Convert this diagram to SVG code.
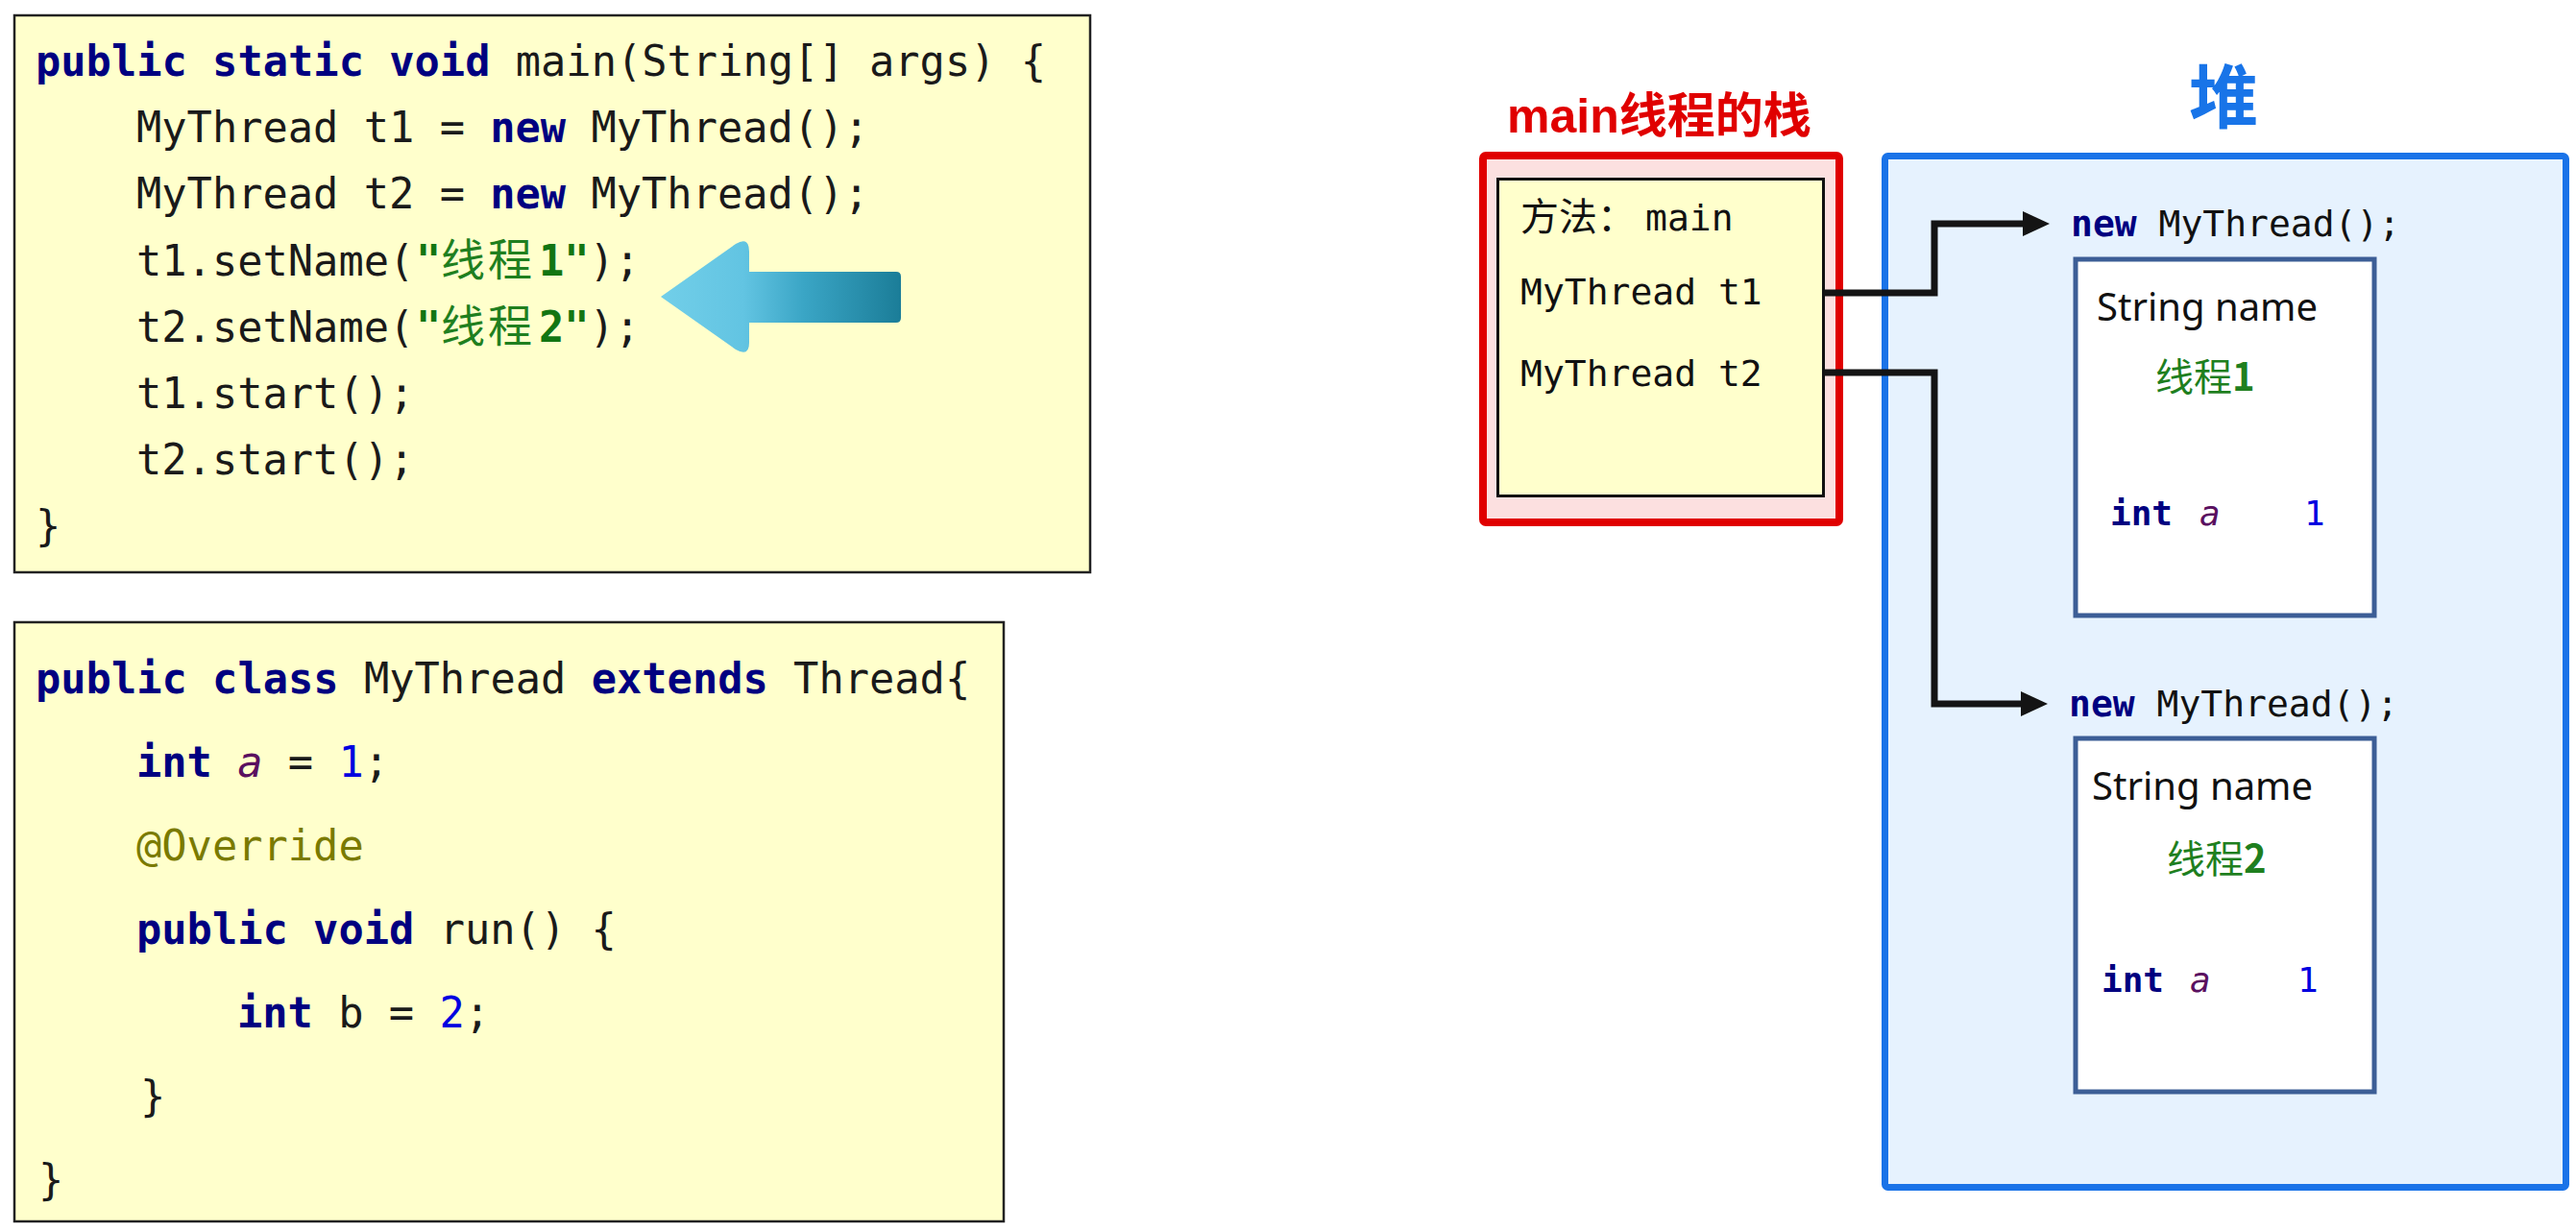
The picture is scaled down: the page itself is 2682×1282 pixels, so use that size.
<svg xmlns="http://www.w3.org/2000/svg" width="2682" height="1282" viewBox="0 0 2682 1282">
<defs>
<style>
.code{font-family:"DejaVu Sans Mono","Liberation Mono","Noto Sans CJK SC",monospace;font-size:43.7px;fill:#1a1a1a}
.kw{font-weight:bold;fill:#000080}
.str{fill:#127512;font-weight:bold}
.cjk{font-family:"Noto Sans CJK SC",sans-serif;font-weight:normal;fill:#1f7f1f;font-size:46px}
.num{fill:#0000e0}
.ital{font-style:italic;fill:#5a1060}
.ann{fill:#7a7a00}
.box{fill:#ffffcc;stroke:#222;stroke-width:2.5}
.stk{font-family:"DejaVu Sans Mono","Liberation Mono",monospace;font-size:38px;fill:#111}
.obj{fill:#ffffff;stroke:#3c5e96;stroke-width:5}
.sn{font-family:"Noto Sans","Open Sans",sans-serif;font-size:40px;fill:#111}
.cn{font-family:"Noto Sans CJK SC",sans-serif;font-size:40px;fill:#1f7f1f}
.fld{font-family:"DejaVu Sans Mono","Liberation Mono",monospace;font-size:36px}
.conn{fill:none;stroke:#141414;stroke-width:7;stroke-linejoin:miter}
</style>
<linearGradient id="ag" gradientUnits="userSpaceOnUse" x1="686" y1="0" x2="938" y2="0">
<stop offset="0" stop-color="#72cfe9"/>
<stop offset="0.35" stop-color="#62c4e2"/>
<stop offset="0.6" stop-color="#3aa5c5"/>
<stop offset="1" stop-color="#1b7d98"/>
</linearGradient>
<marker id="ah" markerUnits="userSpaceOnUse" viewBox="0 0 28 26" refX="2" refY="13" markerWidth="28" markerHeight="26" orient="auto">
<path d="M0,0 L28,13 L0,26 Z" fill="#141414"/>
</marker>
</defs>
<rect width="2682" height="1282" fill="#ffffff"/>

<g id="code-main">
<rect class="box" x="15" y="16" width="1120" height="580"/>
<text class="code" x="37" y="79"><tspan class="kw">public static void</tspan> main(String[] args) {</text>
<text class="code" x="142" y="148">MyThread t1 = <tspan class="kw">new</tspan> MyThread();</text>
<text class="code" x="142" y="217">MyThread t2 = <tspan class="kw">new</tspan> MyThread();</text>
<text class="code" x="142" y="287">t1.setName(<tspan class="str" x="433">"</tspan><tspan class="cjk" x="459">线</tspan><tspan class="cjk" x="508">程</tspan><tspan class="str" x="561">1"</tspan>);</text>
<text class="code" x="142" y="356">t2.setName(<tspan class="str" x="433">"</tspan><tspan class="cjk" x="459">线</tspan><tspan class="cjk" x="508">程</tspan><tspan class="str" x="561">2"</tspan>);</text>
<text class="code" x="142" y="425">t1.start();</text>
<text class="code" x="142" y="494">t2.start();</text>
<text class="code" x="37" y="563">}</text>
<path d="M688,309 L766,254 Q780,246 780,262 V283 H933 Q938,283 938,288 V331 Q938,336 933,336 H780 V357 Q780,372 766,364 Z" fill="url(#ag)"/>
</g>

<g id="code-class">
<rect class="box" x="15" y="648" width="1030" height="624"/>
<text class="code" x="37" y="722"><tspan class="kw">public class</tspan> MyThread <tspan class="kw">extends</tspan> Thread{</text>
<text class="code" x="142" y="809"><tspan class="kw">int</tspan> <tspan class="ital">a</tspan> = <tspan class="num">1</tspan>;</text>
<text class="code ann" x="142" y="896">@Override</text>
<text class="code" x="142" y="983"><tspan class="kw">public void</tspan> run() {</text>
<text class="code" x="247" y="1070"><tspan class="kw">int</tspan> b = <tspan class="num">2</tspan>;</text>
<text class="code" x="146" y="1157">}</text>
<text class="code" x="40" y="1244">}</text>
</g>

<g id="stack">
<text x="1569" y="138" font-family="Liberation Sans, Noto Sans CJK SC, sans-serif" font-size="50" font-weight="bold" fill="#e00000">main线程的栈</text>
<rect x="1544" y="162" width="371" height="382" rx="3" fill="#fce0e0" stroke="#e00000" stroke-width="8"/>
<rect x="1559.5" y="186.5" width="339" height="330" fill="#ffffcc" stroke="#111" stroke-width="3"/>
<text class="stk" x="1583" y="240"><tspan font-family="Noto Sans CJK SC, sans-serif" font-size="40">方法：</tspan><tspan x="1713">main</tspan></text>
<text class="stk" x="1583" y="317">MyThread t1</text>
<text class="stk" x="1583" y="402">MyThread t2</text>
</g>

<g id="heap">
<text x="2315" y="127" text-anchor="middle" font-family="Noto Sans CJK SC, sans-serif" font-size="72" font-weight="bold" fill="#1874e8">堆</text>
<rect x="1962.5" y="162.5" width="709" height="1074" rx="3" fill="#e6f2fe" stroke="#1a73e8" stroke-width="7"/>
</g>

<g id="obj1">
<text class="stk" x="2156" y="246"><tspan class="kw">new</tspan> MyThread();</text>
<rect class="obj" x="2161" y="270" width="311" height="371"/>
<text class="sn" x="2183" y="334">String name</text>
<text class="cn" x="2244" y="407">线程<tspan font-weight="bold">1</tspan></text>
<text class="fld" x="2197" y="547"><tspan class="kw">int</tspan></text>
<text class="fld ital" x="2290" y="547">a</text>
<text class="fld num" x="2399" y="547">1</text>
</g>

<g id="obj2">
<text class="stk" x="2154" y="746"><tspan class="kw">new</tspan> MyThread();</text>
<rect class="obj" x="2161" y="769" width="311" height="368"/>
<text class="sn" x="2178" y="833">String name</text>
<text class="cn" x="2256" y="909">线程<tspan font-weight="bold">2</tspan></text>
<text class="fld" x="2188" y="1033"><tspan class="kw">int</tspan></text>
<text class="fld ital" x="2280" y="1033">a</text>
<text class="fld num" x="2392" y="1033">1</text>
</g>

<g id="connectors">
<path class="conn" d="M1899,305 H2014 V233 H2108" marker-end="url(#ah)"/>
<path class="conn" d="M1899,388 H2014 V733 H2106" marker-end="url(#ah)"/>
</g>
</svg>
